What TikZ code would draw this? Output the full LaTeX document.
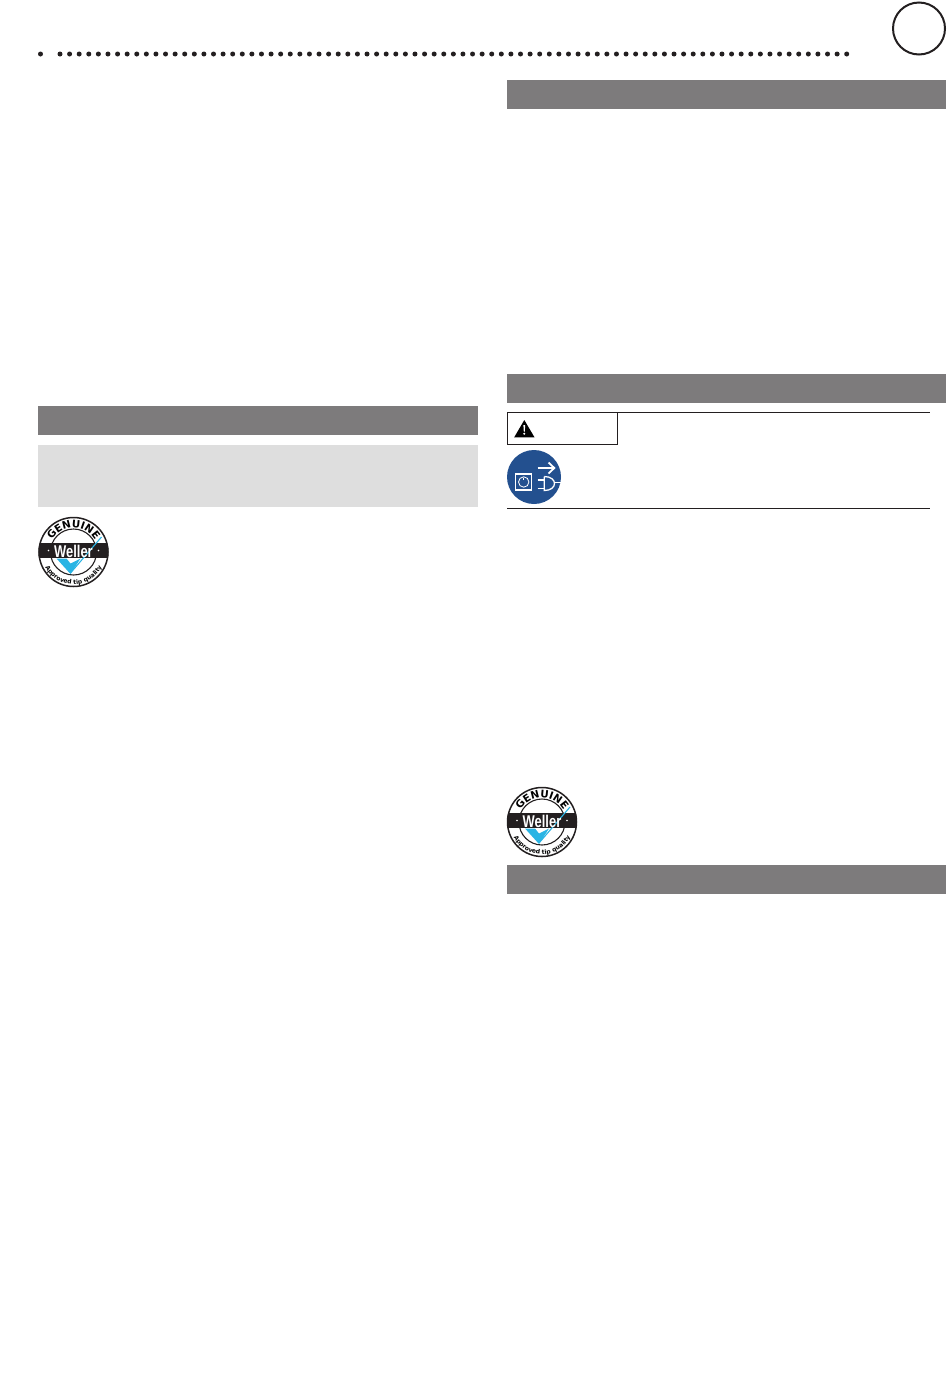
\documentclass[tikz,border=0pt]{standalone}
\usepackage{fontspec}
\setmainfont{Liberation Sans}
\newfontfamily\logofont{DejaVu Sans}
\usetikzlibrary{decorations.text}
\definecolor{bargray}{HTML}{7D7B7C}
\definecolor{panelgray}{HTML}{DEDEDE}
\definecolor{iconblue}{HTML}{23508F}
\definecolor{checkblue}{HTML}{29B4E4}
\definecolor{inkblack}{HTML}{231F20}
\tikzset{
  x=1pt,y=-1pt,
  headbar/.style={fill=bargray,draw=none},
  panel/.style={fill=panelgray,draw=none},
  rulel/.style={draw=inkblack,line width=1pt},
  dotmark/.style={fill=inkblack,draw=none},
  iconline/.style={draw=white,line width=1.3pt},
  pics/wellerlogo/.style={code={
    \begin{scope}[x=1pt,y=1pt]
      \fill[white] (0,0) circle[radius=35];
      \draw[inkblack,line width=1.1pt] (0,0) circle[radius=23];
      \begin{scope}
        \clip (0,0) circle[radius=35];
        \fill[inkblack] (-36,8.7) rectangle (36,-5.7);
      \end{scope}
      \draw[inkblack,line width=1.5pt] (0,0) circle[radius=34.5];
      \fill[checkblue] (-17,-6.5) -- (-7,-6.5) -- (-3,-11.5) -- (7,-6.5) -- (-3,-22) -- cycle;
      \draw[checkblue,line width=1.1pt] (-3,-21) -- (28,15);
      \node[text=white,inner sep=0pt,xscale=.76,font=\bfseries\fontsize{17}{17}\selectfont] at (0,0.6) {Weller};
      \fill[white] (-25,1.5) circle[radius=.9] (25,1.5) circle[radius=.9];
      \path[decorate,decoration={text along path,text align=center,
        text={|\logofont\bfseries\fontsize{10.3}{10.3}\selectfont|GENUINE}}]
        (165:24.6) arc[start angle=165,end angle=15,radius=24.6];
      \path[decorate,decoration={text along path,text align=center,
        text={|\logofont\bfseries\fontsize{6}{6}\selectfont|Approved tip quality}}]
        (200:32.3) arc[start angle=200,end angle=340,radius=32.3];
    \end{scope}
  }}
}
\begin{document}
\begin{tikzpicture}
\useasboundingbox (0,0) rectangle (950,1374);
% header dots
\fill[dotmark] (40.5,54) circle[radius=2.5];
\foreach \i in {0,...,82}{
  \fill[dotmark] ({60+\i*9.594},54) circle[radius=2.5];
}
\node[draw=inkblack,line width=2pt,circle,minimum size=52pt,inner sep=0pt] (badge) at (919,28.5) {};
% grey bars
\fill[headbar] (507,80) rectangle (946,109);
\fill[headbar] (507,374) rectangle (946,403);
\fill[headbar] (507,865) rectangle (946,894);
\fill[headbar] (38.3,406) rectangle (478,435);
\fill[panel] (38.3,445) rectangle (478,507);
% logos
\pic at (73.5,552) {wellerlogo};
\pic at (542,822) {wellerlogo};
% warning panel
\draw[rulel] (507.5,412.5) rectangle (617.5,444.5);
\draw[rulel] (617.5,412.5) -- (930,412.5);
\draw[rulel] (507,508.5) -- (930,508.5);
\fill[black] (524.3,420) -- (534.5,437.3) -- (514.2,437.3) -- cycle;
\fill[white] (523.4,425) -- (525.2,425) -- (524.8,431.5) -- (523.8,431.5) -- cycle;
\fill[white] (524.3,433.7) circle[radius=1.1];
% mandatory icon
\fill[iconblue] (534,477) circle[radius=27];
\draw[iconline] (515.7,474) rectangle (531.7,490);
\draw[iconline,line width=.8pt] (523.7,482) circle[radius=5.2];
\draw[iconline,line width=.8pt] (523.7,477.5) -- (523.7,480);
\draw[iconline,line width=1.8pt] (537.7,468) -- (553.5,468);
\draw[iconline,line width=1.8pt] (548.5,462.5) -- (554.3,468) -- (548.5,473.5);
\draw[iconline] (537.7,480) -- (544.3,480);
\draw[iconline] (537.7,488.3) -- (544.3,488.3);
\draw[iconline] (544.3,476.5) -- (544.3,490.5) .. controls (551,490.5) and (554.5,487) .. (554.5,483.5) .. controls (554.5,480) and (551,476.5) .. (544.3,476.5);
\draw[iconline,line width=.8pt] (554.5,482.5) -- (561,482.5);
\end{tikzpicture}
\end{document}
